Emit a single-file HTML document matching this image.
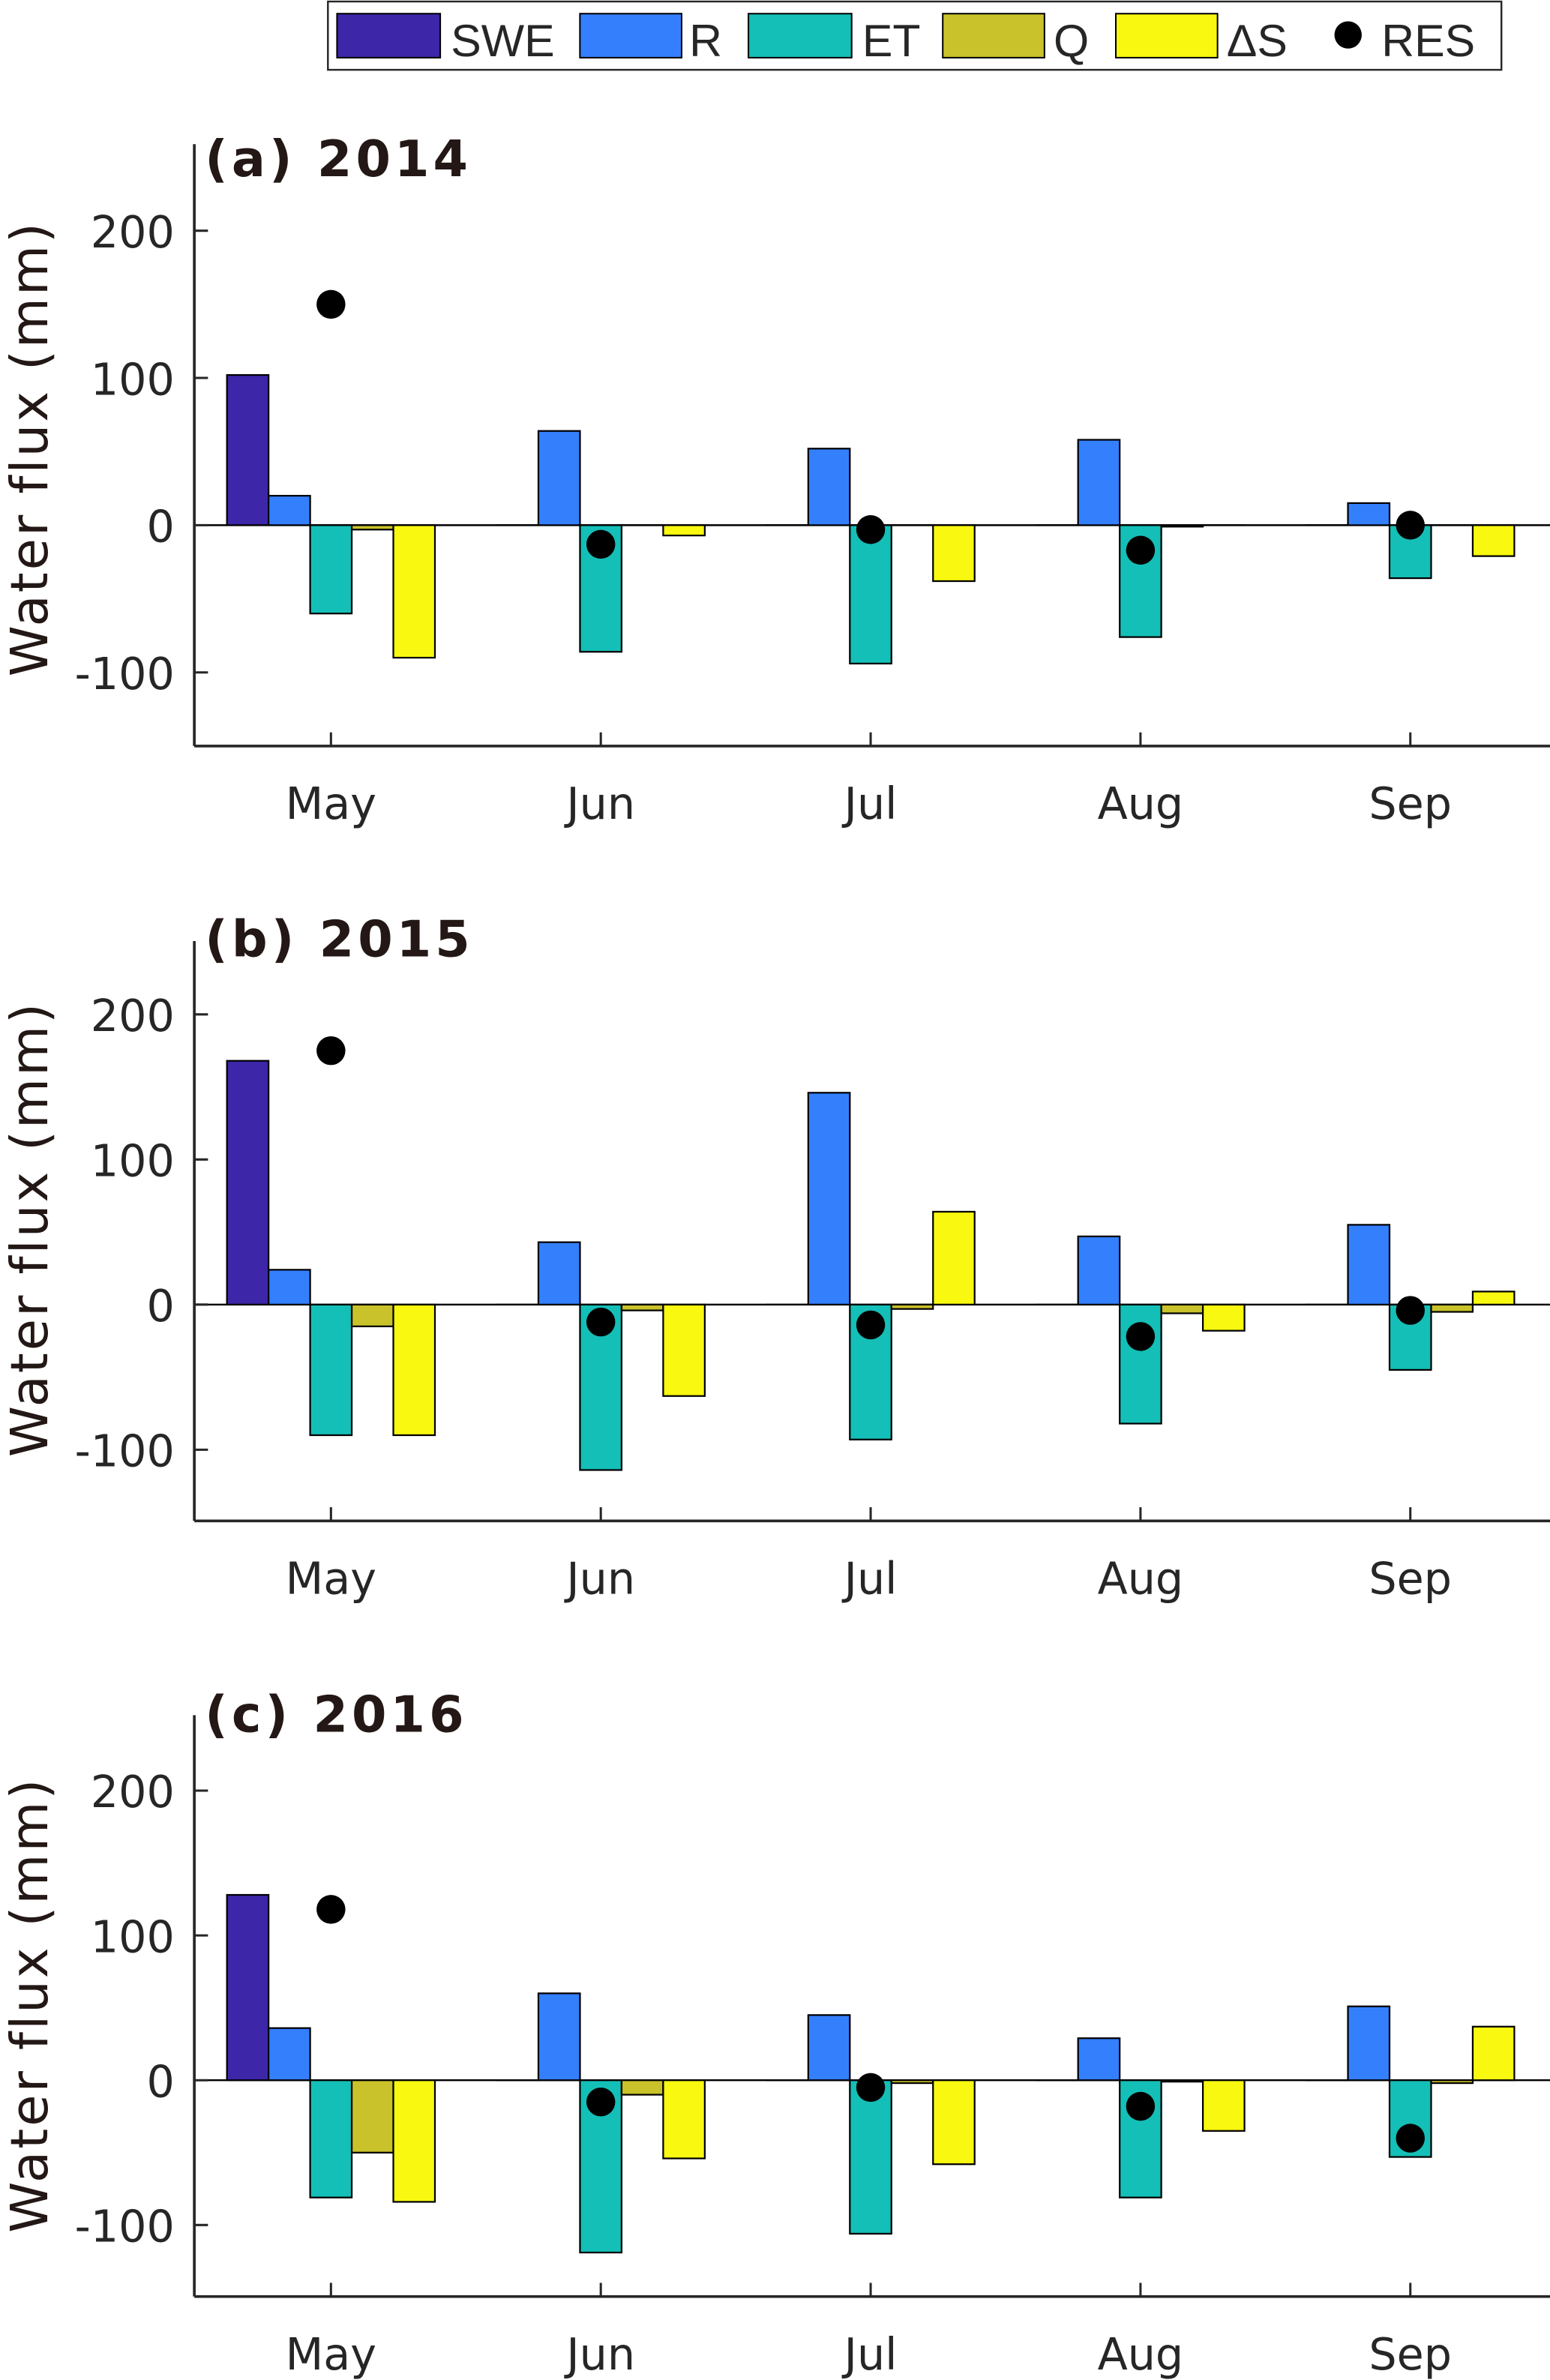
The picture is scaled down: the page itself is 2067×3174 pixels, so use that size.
<!DOCTYPE html>
<html><head><meta charset="utf-8"><style>
html,body{margin:0;padding:0;background:#fff;}
svg{display:block;}
</style></head><body>
<svg id="chart" width="2067" height="3174" viewBox="0 0 1021 1568" preserveAspectRatio="none" xmlns="http://www.w3.org/2000/svg">
<g>
<rect x="216" y="1" width="773" height="45" fill="#fff" stroke="#262626" stroke-width="1.2"/>
<rect x="222" y="9" width="68" height="29" fill="#3d26a8" stroke="#000" stroke-width="1"/>
<text x="297" y="37" font-family="Liberation Sans, sans-serif" font-size="30" fill="#262626">SWE</text>
<rect x="382" y="9" width="67" height="29" fill="#347ffc" stroke="#000" stroke-width="1"/>
<text x="454" y="37" font-family="Liberation Sans, sans-serif" font-size="30" fill="#262626">R</text>
<rect x="493" y="9" width="68" height="29" fill="#14bfb7" stroke="#000" stroke-width="1"/>
<text x="568" y="37" font-family="Liberation Sans, sans-serif" font-size="30" fill="#262626">ET</text>
<rect x="621" y="9" width="67" height="29" fill="#c9c22a" stroke="#000" stroke-width="1"/>
<text x="694" y="37" font-family="Liberation Sans, sans-serif" font-size="30" fill="#262626">Q</text>
<rect x="735" y="9" width="67" height="29" fill="#f8f810" stroke="#000" stroke-width="1"/>
<text x="808" y="37" font-family="Liberation Sans, sans-serif" font-size="30" fill="#262626">ΔS</text>
<circle cx="888" cy="23" r="9" fill="#000"/>
<text x="910" y="37" font-family="Liberation Sans, sans-serif" font-size="30" fill="#262626">RES</text>
</g>
</svg>
<script>
const months = ["May","Jun","Jul","Aug","Sep"];
const yTicks = [-100,0,100,200];
const years = ["(a) 2014","(b) 2015","(c) 2016"];
const swe2014 = [102,0,0,0,0];
const r2014 = [20,64,52,58,15];
const et2014 = [-60,-86,-94,-76,-36];
const q2014 = [-3,0,0,-1,0];
const ds2014 = [-90,-7,-38,0,-21];
const res2014 = [150,-13,-3,-17,0];
const swe2015 = [168,0,0,0,0];
const r2015 = [24,43,146,47,55];
const et2015 = [-90,-114,-93,-82,-45];
const q2015 = [-15,-4,-3,-6,-5];
const ds2015 = [-90,-63,64,-18,9];
const res2015 = [175,-12,-14,-22,-4];
const swe2016 = [128,0,0,0,0];
const r2016 = [36,60,45,29,51];
const et2016 = [-81,-119,-106,-81,-53];
const q2016 = [-50,-10,-2,-1,-2];
const ds2016 = [-84,-54,-58,-35,37];
const res2016 = [118,-15,-5,-18,-40];

const NS="http://www.w3.org/2000/svg";
const svg=document.getElementById('chart');
const colors=["#3d26a8","#347ffc","#14bfb7","#c9c22a","#f8f810"];
const sNames=["swe","r","et","q","ds"];
const panels=[
 {series:[swe2014,r2014,et2014,q2014,ds2014],res:res2014,zero:346,per:97,bottom:491.5,top:95,title:104},
 {series:[swe2015,r2015,et2015,q2015,ds2015],res:res2015,zero:859.5,per:95.6,bottom:1002,top:620,title:618},
 {series:[swe2016,r2016,et2016,q2016,ds2016],res:res2016,zero:1370.5,per:95.4,bottom:1513,top:1130,title:1129}
];
const axL=128, axR=1021;
function xScale(i){return 218+i*177.75;}
const bw=27.4;
function mk(tag,attrs,parent){const e=document.createElementNS(NS,tag);for(const k in attrs)e.setAttribute(k,attrs[k]);(parent||svg).appendChild(e);return e;}
panels.forEach((p,pi)=>{
 const yS=v=>p.zero-v*p.per/100;
 const g=mk('g',{});
 
 
 const zl=mk('line',{x1:axL,x2:axR,y1:yS(0),y2:yS(0),stroke:'#000','stroke-width':1.2},g);
 
 
 p.series.forEach((arr,si)=>{
  arr.forEach((v,i)=>{
   const x=xScale(i)-2.5*bw+si*bw;
   const y0=yS(0),y1=yS(v);
   const r=mk('rect',{x:x,y:Math.min(y0,y1),width:bw,height:Math.max(Math.abs(y1-y0),0.01),fill:colors[si],stroke:'#000','stroke-width':1.1},g);
   
   
  });
 });
 p.res.forEach((v,i)=>{
  const c=mk('circle',{cx:xScale(i),cy:yS(v),r:9.5,fill:'#000'},g);
  
  
 });
 const ya=mk('line',{x1:axL,x2:axL,y1:p.top,y2:p.bottom,stroke:'#262626','stroke-width':1.8},g);
 
 
 const xa=mk('line',{x1:axL,x2:axR,y1:p.bottom,y2:p.bottom,stroke:'#262626','stroke-width':1.8},g);
 
 
 yTicks.forEach(t=>{
  mk('line',{x1:axL,x2:axL+9,y1:yS(t),y2:yS(t),stroke:'#262626','stroke-width':1.5},g);
  const tl=mk('text',{x:115,y:yS(t)+11,'text-anchor':'end','font-family':'DejaVu Sans, sans-serif','font-size':29,fill:'#262626'},g);
  tl.textContent=t;
  
  
 });
 months.forEach((m,i)=>{
  mk('line',{x1:xScale(i),x2:xScale(i),y1:p.bottom,y2:p.bottom-9,stroke:'#262626','stroke-width':1.5},g);
  const tl=mk('text',{x:xScale(i),y:p.bottom+48,'text-anchor':'middle','font-family':'DejaVu Sans, sans-serif','font-size':29,fill:'#262626'},g);
  tl.textContent=m;
  
  
 });
 const tt=mk('text',{x:135,y:p.title+12,'font-family':'DejaVu Sans, sans-serif','font-weight':'bold','font-size':33,fill:'#231815','letter-spacing':'2.5'},g);
 tt.textContent=years[pi];
 
 
 const yl=mk('text',{x:0,y:0,'text-anchor':'middle','font-family':'DejaVu Sans, sans-serif','font-size':34,fill:'#231815','letter-spacing':'1.5',transform:'translate(31,'+(yS(50)-2)+') rotate(-90)'},g);
 yl.textContent='Water flux (mm)';
 
 
});
</script>
</body></html>
